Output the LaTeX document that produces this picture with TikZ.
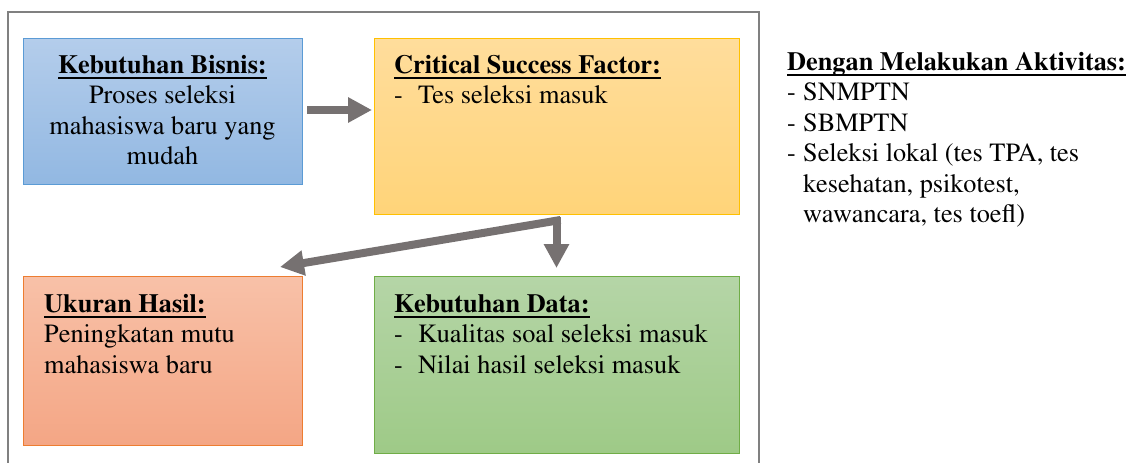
\documentclass[tikz,border=0pt]{standalone}
\usepackage[T1]{fontenc}
\usepackage{mathptmx}
\usetikzlibrary{arrows.meta}

\definecolor{frameGray}{HTML}{808080}
\definecolor{arrowGray}{HTML}{767171}
\definecolor{blueTop}{HTML}{B4CDEB}
\definecolor{blueBot}{HTML}{92B8E2}
\definecolor{blueEdge}{HTML}{5B9BD5}
\definecolor{yelTop}{HTML}{FFDD9C}
\definecolor{yelBot}{HTML}{FFD479}
\definecolor{yelEdge}{HTML}{FFC000}
\definecolor{redTop}{HTML}{F8C1A8}
\definecolor{redBot}{HTML}{F4A685}
\definecolor{redEdge}{HTML}{ED7D31}
\definecolor{grnTop}{HTML}{B5D5A7}
\definecolor{grnBot}{HTML}{9ECA87}
\definecolor{grnEdge}{HTML}{70AD47}

% bold heading with a thick underline
\newsavebox\hdbox
\newcommand\hd[1]{\sbox\hdbox{\bfseries #1}\rlap{\rule[-6pt]{\wd\hdbox}{2.2pt}}\usebox\hdbox}
% dash list items (box lists and the side list)
\newcommand\itm[1]{\makebox[24pt][l]{-}#1}
\newcommand\itmr[1]{\makebox[16pt][l]{-}#1}

\begin{document}
\begin{tikzpicture}[x=1pt,y=-1pt,
  box/.style={draw, line width=1pt, inner sep=0pt, outer sep=0pt, anchor=north west, shading=axis},
  txt/.style={inner sep=0pt, anchor=north west, align=left, font=\fontsize{26.3}{30.5}\selectfont},
  conn/.style={draw=arrowGray, line width=8pt, -{Triangle[length=24pt,width=24pt]}},
  frame/.style={draw=frameGray, line width=2pt}
]
\useasboundingbox (0,0) rectangle (1127,463);

% surrounding frame (open at the bottom)
\draw[frame] (8,463) -- (8,12) -- (759,12) -- (759,463);

% the four boxes
\node[box, draw=blueEdge, top color=blueTop, bottom color=blueBot,
      minimum width=279pt, minimum height=146pt] (bisnis) at (23,38) {};
\node[box, draw=yelEdge, top color=yelTop, bottom color=yelBot,
      minimum width=365pt, minimum height=176pt] (csf) at (374,38) {};
\node[box, draw=redEdge, top color=redTop, bottom color=redBot,
      minimum width=279pt, minimum height=169pt] (hasil) at (23,276) {};
\node[box, draw=grnEdge, top color=grnTop, bottom color=grnBot,
      minimum width=365pt, minimum height=177pt] (data) at (374,276) {};

% box texts
\node[txt, anchor=north, align=center] (tBisnis) at (162.5,55)
  {\hd{Kebutuhan Bisnis:}\\Proses seleksi\\mahasiswa baru yang\\mudah};
\node[txt] (tCsf) at (394,55)
  {\hd{Critical Success Factor:}\\\itm{Tes seleksi masuk}};
\node[txt] (tHasil) at (44,294)
  {\hd{Ukuran Hasil:}\\Peningkatan mutu\\mahasiswa baru};
\node[txt] (tData) at (394,294)
  {\hd{Kebutuhan Data:}\\\itm{Kualitas soal seleksi masuk}\\\itm{Nilai hasil seleksi masuk}};

% side list of activities
\node[txt] (tAkt) at (787,52)
  {\hd{Dengan Melakukan Aktivitas:}\\\itmr{SNMPTN}\\\itmr{SBMPTN}\\\itmr{Seleksi lokal (tes TPA, tes}\\
   \hspace*{16pt}kesehatan, psikotest,\\\hspace*{16pt}wawancara, tes toefl)};

% connectors
\draw[conn, shorten <=5pt, shorten >=2pt] (bisnis.east) ++(0,-1) coordinate (a1) (a1) -- (a1 -| csf.west);
\coordinate (split) at ([yshift=-6pt]csf.south);
\coordinate (tipL) at ([shift={(-22pt,9pt)}]hasil.north east);
\draw[conn] ([yshift=-3pt]csf.south) -- ([yshift=8pt]data.north -| csf.south);
\draw[conn] ([xshift=4pt]split) -- (tipL);
\end{tikzpicture}
\end{document}
